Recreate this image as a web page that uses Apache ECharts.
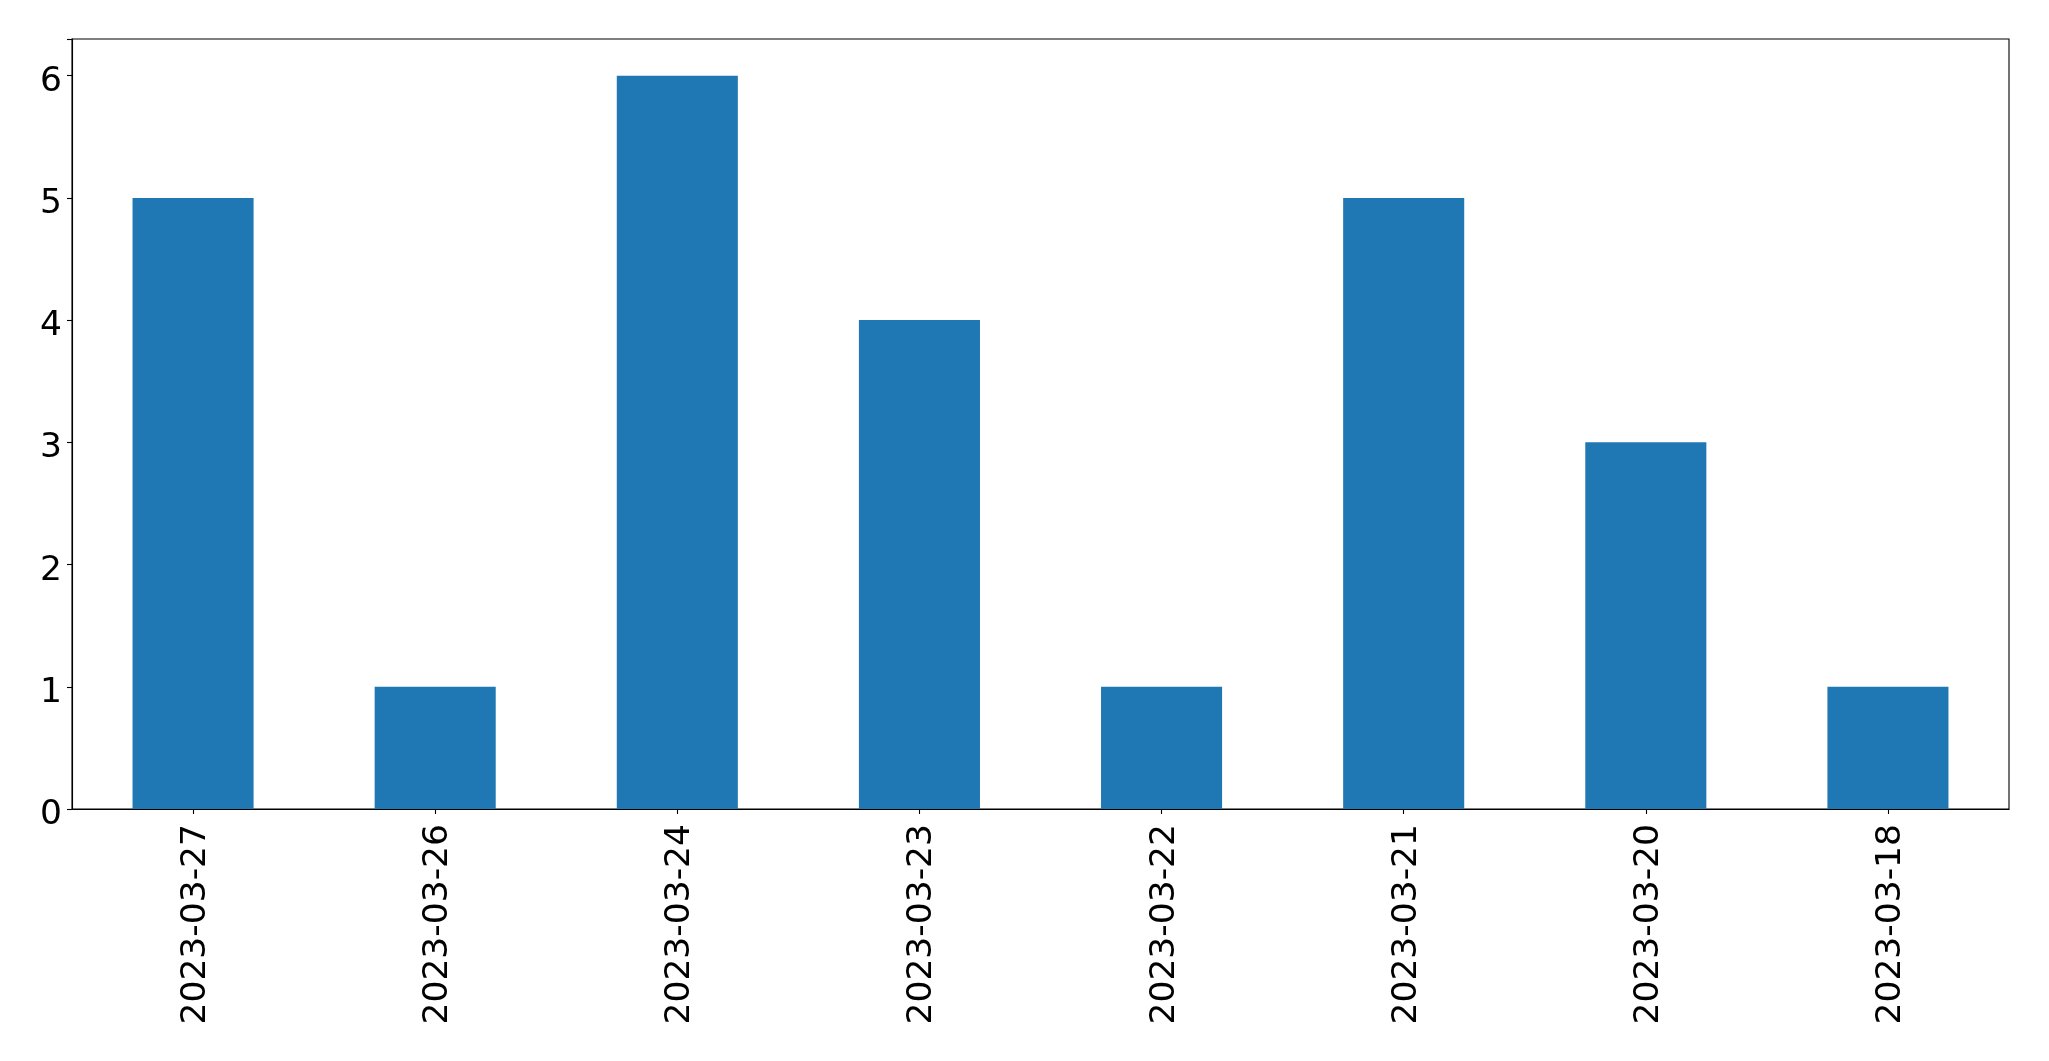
<!DOCTYPE html>
<html>
<head>
<meta charset="utf-8">
<script src="https://cdn.jsdelivr.net/npm/echarts@6/dist/echarts.min.js"></script>
<style>html,body{margin:0;padding:0;background:#fff;}#chart{width:2049px;height:1061px;}</style>
</head>
<body>
<div id="chart"></div>
<script>
const categories = ['2023-03-27','2023-03-26','2023-03-24','2023-03-23','2023-03-22','2023-03-21','2023-03-20','2023-03-18'];
const values = [5, 1, 6, 4, 1, 5, 3, 1];
const yTicks = [0, 1, 2, 3, 4, 5, 6];

const chart = echarts.init(document.getElementById('chart'), null, {renderer: 'canvas'});
const font = 'DejaVu Sans';
chart.setOption({
  animation: false,
  backgroundColor: '#ffffff',
  grid: {left: 72, right: 40, top: 39, bottom: 252, show: true, borderColor: '#000', borderWidth: 1.1, backgroundColor: 'transparent'},
  xAxis: {
    type: 'category',
    data: categories,
    boundaryGap: true,
    axisLine: {show: true, lineStyle: {color: '#000', width: 1.1}},
    axisTick: {show: true, alignWithLabel: true, length: 5, lineStyle: {color: '#000', width: 1.1}},
    axisLabel: {rotate: 90, margin: 15, color: '#000', interval: 0,
      formatter: function (v) { return '{a|' + v + '}'; },
      rich: {a: {fontFamily: font, fontSize: 34.5, color: '#000', padding: [6, 0, 0, 0]}}},
    splitLine: {show: false}
  },
  yAxis: {
    type: 'value',
    min: 0,
    max: 6.3,
    interval: 1,
    axisLine: {show: true, lineStyle: {color: '#000', width: 1.1}},
    axisTick: {show: true, length: 5, lineStyle: {color: '#000', width: 1.1}},
    axisLabel: {margin: 10, color: '#000',
      formatter: function (v) { return yTicks.indexOf(v) >= 0 ? '{a|' + v + '}' : ''; },
      rich: {a: {fontFamily: font, fontSize: 34.5, color: '#000', padding: [12, 0, 0, 0]}}},
    splitLine: {show: false}
  },
  series: [{
    type: 'bar',
    data: values,
    barWidth: '50%',
    itemStyle: {color: '#1f77b4'}
  }]
});
</script>
</body>
</html>
